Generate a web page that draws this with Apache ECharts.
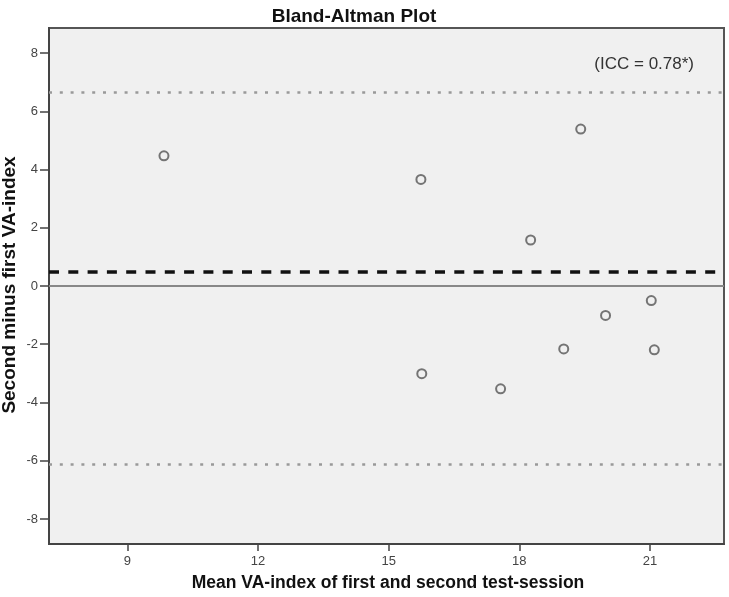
<!DOCTYPE html>
<html>
<head>
<meta charset="utf-8">
<script src="https://cdn.jsdelivr.net/npm/echarts@6/dist/echarts.min.js"></script>
<style>
html,body{margin:0;padding:0;background:#fff;}
#chart{width:729px;height:597px;}
</style>
</head>
<body>
<div id="chart"></div>
<script>
const meanValues = [9.84, 15.74, 15.76, 17.57, 18.26, 19.02, 19.41, 19.98, 21.03, 21.10];
const diffValues = [4.47, 3.66, -3.01, -3.53, 1.58, -2.16, 5.39, -1.01, -0.50, -2.19];
const upperLimit = 6.65;
const lowerLimit = -6.11;
const meanDiff = 0.48;
const zeroLine = 0;
const xTicks = [9, 12, 15, 18, 21];
const yTicks = [-8, -6, -4, -2, 0, 2, 4, 6, 8];
const yTitle = 'Second minus first VA-index';

const points = meanValues.map((v, i) => [v, diffValues[i]]);

const chart = echarts.init(document.getElementById('chart'), null, {renderer: 'canvas'});
chart.setOption({
  backgroundColor: '#ffffff',
  animation: false,
  title: [
    {text: 'Bland-Altman Plot', left: 354, top: 7, textAlign: 'center', padding: 0,
     textStyle: {fontFamily: 'Liberation Sans', fontWeight: 'bold', fontSize: 19, color: '#111'}},
    {text: 'Mean VA-index of first and second test-session', left: 388, top: 574, textAlign: 'center', padding: 0,
     textStyle: {fontFamily: 'Liberation Sans', fontWeight: 'bold', fontSize: 17.5, color: '#111'}},
    {text: '(ICC = 0.78*)', left: 694, top: 56, textAlign: 'right', padding: 0,
     textStyle: {fontFamily: 'Liberation Sans', fontWeight: 'normal', fontSize: 17, color: '#333'}}
  ],
  graphic: [{
    type: 'text', x: 10, y: 285, rotation: Math.PI / 2,
    style: {text: yTitle, font: 'bold 19px "Liberation Sans"', fill: '#111',
            textAlign: 'center', textVerticalAlign: 'middle'}
  }],
  grid: {left: 49, top: 28, right: 5, bottom: 53, show: true, backgroundColor: '#f0f0f0',
         borderColor: '#555', borderWidth: 2, containLabel: false, outerBoundsMode: 'none'},
  xAxis: {
    type: 'value', min: 7.2, max: 22.7,
    axisLine: {show: true, onZero: false, lineStyle: {color: '#444', width: 2}},
    axisTick: {show: true, length: 7, customValues: xTicks, lineStyle: {color: '#444', width: 1.5}},
    axisLabel: {customValues: xTicks, color: '#444', fontFamily: 'Liberation Sans', fontSize: 13, margin: 11},
    splitLine: {show: false}
  },
  yAxis: {
    type: 'value', min: -8.86, max: 8.86,
    axisLine: {show: true, onZero: false, lineStyle: {color: '#444', width: 2}},
    axisTick: {show: true, length: 9, customValues: yTicks, lineStyle: {color: '#444', width: 1.5}},
    axisLabel: {customValues: yTicks, color: '#444', fontFamily: 'Liberation Sans', fontSize: 13, margin: 11},
    splitLine: {show: false}
  },
  series: [{
    type: 'scatter',
    data: points,
    symbol: 'circle',
    symbolSize: 9,
    itemStyle: {color: '#f0f0f0', borderColor: '#555', borderWidth: 2},
    markLine: {
      silent: true, symbol: 'none', label: {show: false}, animation: false,
      data: [
        {yAxis: upperLimit, lineStyle: {color: '#999', width: 2.5, type: [3, 7.8]}},
        {yAxis: lowerLimit, lineStyle: {color: '#999', width: 2.5, type: [3, 7.8]}},
        {yAxis: zeroLine, lineStyle: {color: '#888', width: 2, type: 'solid'}},
        {yAxis: meanDiff, lineStyle: {color: '#111', width: 3.5, type: [10, 9.3]}}
      ]
    }
  }]
});
</script>
</body>
</html>
